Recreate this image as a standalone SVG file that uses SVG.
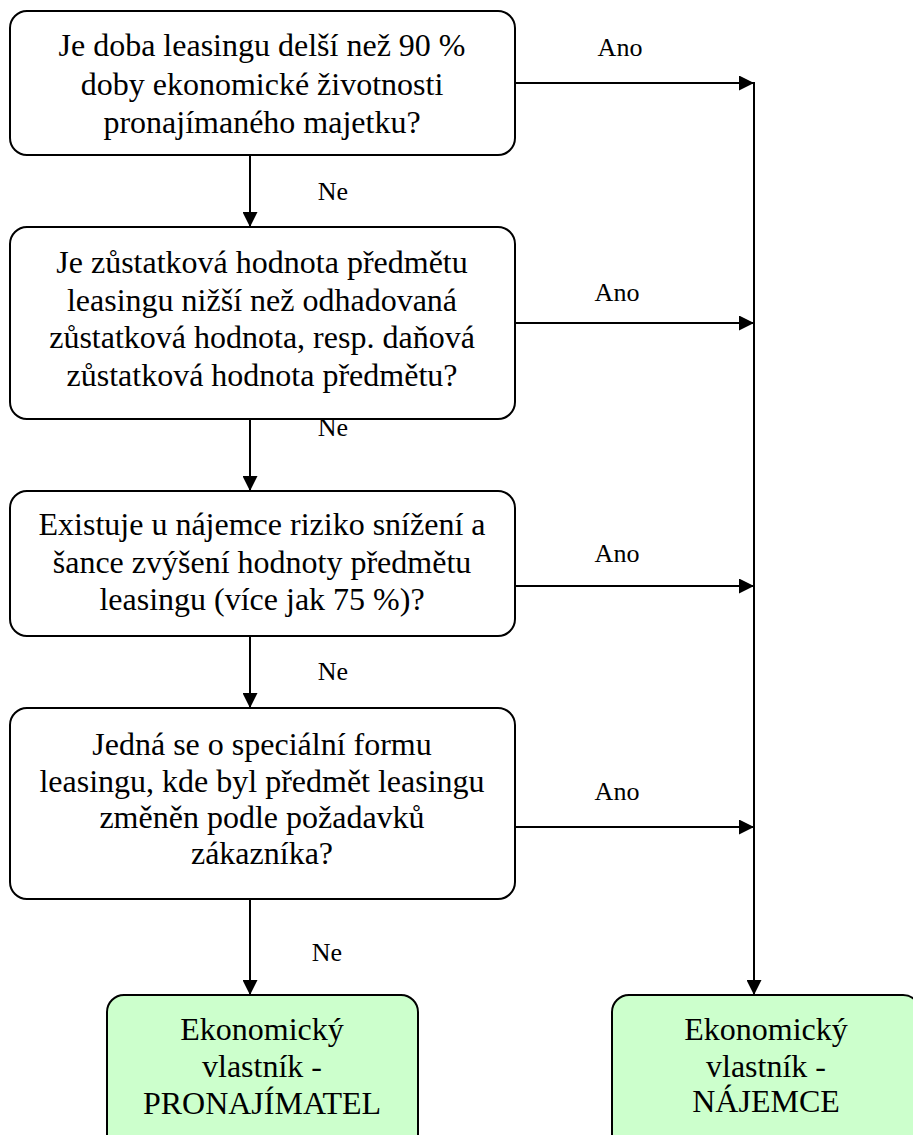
<svg xmlns="http://www.w3.org/2000/svg" width="913" height="1135" viewBox="0 0 913 1135">
<style>
.box{fill:#fff;stroke:#000;stroke-width:2}
.end{fill:#ccffcc;stroke:#000;stroke-width:2}
.c{fill:none;stroke:#000;stroke-width:2}
text{font-family:"Liberation Serif",serif;text-anchor:middle;fill:#000}
.t{font-size:32px}
.lbl{font-size:26px}
</style>
<defs>
<marker id="ah" markerWidth="15" markerHeight="15" viewBox="0 0 15 15" refX="15" refY="7.5" orient="auto" markerUnits="userSpaceOnUse">
<path d="M0,0 L15,7.5 L0,15 Z" fill="#000"/>
</marker>
</defs>
<g id="q1">
<rect class="box" x="10" y="11" width="505" height="144" rx="17"/>
<text class="t" x="262" y="56" font-family="Liberation Serif">Je doba leasingu delší než 90 %</text>
<text class="t" x="262" y="94.5" font-family="Liberation Serif">doby ekonomické životnosti</text>
<text class="t" x="262" y="133" font-family="Liberation Serif">pronajímaného majetku?</text>
</g>
<g id="q2">
<rect class="box" x="10" y="227" width="505" height="192" rx="17"/>
<text class="t" x="262" y="273">Je zůstatková hodnota předmětu</text>
<text class="t" x="262" y="310.5">leasingu nižší než odhadovaná</text>
<text class="t" x="262" y="348">zůstatková hodnota, resp. daňová</text>
<text class="t" x="262" y="385.5">zůstatková hodnota předmětu?</text>
</g>
<g id="q3">
<rect class="box" x="10" y="491" width="505" height="145" rx="17"/>
<text class="t" x="262" y="535">Existuje u nájemce riziko snížení a</text>
<text class="t" x="262" y="573">šance zvýšení hodnoty předmětu</text>
<text class="t" x="262" y="610">leasingu (více jak 75 %)?</text>
</g>
<g id="q4">
<rect class="box" x="10" y="708" width="505" height="191" rx="17"/>
<text class="t" x="262" y="755">Jedná se o speciální formu</text>
<text class="t" x="262" y="792">leasingu, kde byl předmět leasingu</text>
<text class="t" x="262" y="828">změněn podle požadavků</text>
<text class="t" x="262" y="864">zákazníka?</text>
</g>
<g id="pronajimatel">
<rect class="end" x="107" y="995" width="311" height="160" rx="17"/>
<text class="t" x="262" y="1040">Ekonomický</text>
<text class="t" x="262" y="1077">vlastník -</text>
<text class="t" x="262" y="1114">PRONAJÍMATEL</text>
</g>
<g id="najemce">
<rect class="end" x="612" y="995" width="308" height="160" rx="17"/>
<text class="t" x="766" y="1040">Ekonomický</text>
<text class="t" x="766" y="1077">vlastník -</text>
<text class="t" x="766" y="1112">NÁJEMCE</text>
</g>
<g id="connectors">
<line class="c" x1="250" y1="155" x2="250" y2="227" marker-end="url(#ah)"/>
<line class="c" x1="250" y1="419" x2="250" y2="491" marker-end="url(#ah)"/>
<line class="c" x1="250" y1="636" x2="250" y2="708" marker-end="url(#ah)"/>
<line class="c" x1="250" y1="899" x2="250" y2="995" marker-end="url(#ah)"/>
<line class="c" x1="515" y1="83" x2="754" y2="83" marker-end="url(#ah)"/>
<line class="c" x1="515" y1="323" x2="754" y2="323" marker-end="url(#ah)"/>
<line class="c" x1="515" y1="586" x2="754" y2="586" marker-end="url(#ah)"/>
<line class="c" x1="515" y1="827" x2="754" y2="827" marker-end="url(#ah)"/>
<line class="c" x1="754" y1="82" x2="754" y2="995" marker-end="url(#ah)"/>
<text class="lbl" x="620" y="56">Ano</text>
<text class="lbl" x="617" y="301">Ano</text>
<text class="lbl" x="617" y="562">Ano</text>
<text class="lbl" x="617" y="800">Ano</text>
<text class="lbl" x="333" y="200">Ne</text>
<text class="lbl" x="333" y="436">Ne</text>
<text class="lbl" x="333" y="680">Ne</text>
<text class="lbl" x="327" y="961">Ne</text>
</g>
</svg>
